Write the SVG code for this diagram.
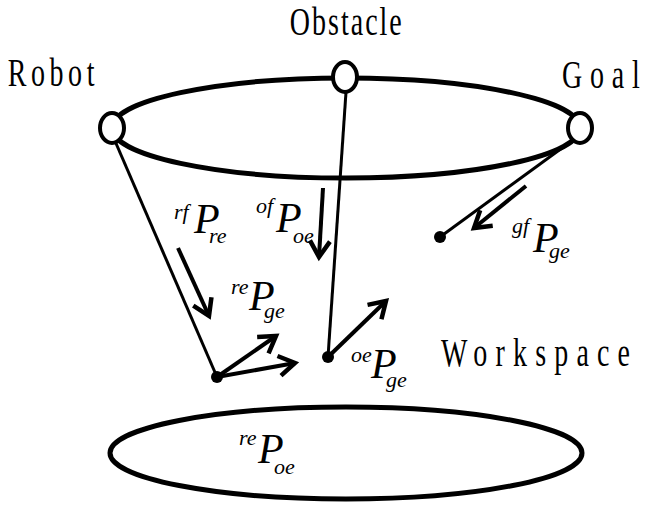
<svg xmlns="http://www.w3.org/2000/svg" width="645" height="508" viewBox="0 0 645 508">
<style>
.lbl{font-family:"Liberation Serif","DejaVu Serif",serif;font-size:40px;fill:#000}
.m{font-family:"Liberation Serif","Times New Roman",serif;font-style:italic;fill:#000}
.P{font-size:42px}
.s{font-size:22px}
.ell{fill:none;stroke:#000;stroke-width:5}
.node{fill:#fff;stroke:#000;stroke-width:4}
.ln{stroke:#000;stroke-width:3;fill:none}
.arr{stroke:#000;stroke-width:4;fill:none;marker-end:url(#ah)}
.dot{fill:#000}
</style>
<defs>
<marker id="ah" markerUnits="userSpaceOnUse" markerWidth="40" markerHeight="40" viewBox="-20 -20 40 40" refX="0" refY="0" orient="auto">
<path d="M -16 -10 L 0 0 L -16 10" fill="none" stroke="#000" stroke-width="4.5"/>
</marker>
</defs>
<g id="workspace-ellipse"><ellipse class="ell" cx="346" cy="128" rx="234" ry="50"/></g>
<g id="bottom-ellipse"><ellipse class="ell" cx="346" cy="453" rx="236" ry="46"/></g>
<g id="connectors">
<line class="ln" x1="115" y1="141" x2="217" y2="377"/>
<line class="ln" x1="346" y1="92" x2="328" y2="357"/>
<line class="ln" x1="573" y1="140" x2="440" y2="237"/>
<line class="arr" x1="178" y1="248" x2="209" y2="316"/>
<line class="arr" x1="323" y1="188" x2="319" y2="257"/>
<line class="arr" x1="217" y1="377" x2="276" y2="336"/>
<line class="arr" x1="217" y1="377" x2="295" y2="363"/>
<line class="arr" x1="328" y1="357" x2="386" y2="301"/>
<line class="arr" x1="526" y1="186" x2="474" y2="228"/>
</g>
<g id="robot"><ellipse class="node" cx="112" cy="128" rx="12" ry="15"/><text class="lbl" transform="scale(0.7,1)" x="11" y="86" textLength="124" lengthAdjust="spacing">Robot</text></g>
<g id="obstacle"><ellipse class="node" cx="345" cy="77" rx="12" ry="15"/><text class="lbl" transform="scale(0.7,1)" x="414" y="35" textLength="160" lengthAdjust="spacing">Obstacle</text></g>
<g id="goal"><ellipse class="node" cx="580" cy="128" rx="12" ry="15"/><text class="lbl" transform="scale(0.7,1)" x="803" y="88" textLength="111" lengthAdjust="spacing">Goal</text></g>
<g id="robot-end"><circle class="dot" cx="217" cy="377" r="6"/></g>
<g id="obstacle-end"><circle class="dot" cx="328" cy="357" r="6"/></g>
<g id="goal-end"><circle class="dot" cx="440" cy="237" r="6"/></g>
<g id="workspace-label"><text class="lbl" transform="scale(0.7,1)" x="630" y="366" textLength="270" lengthAdjust="spacing">Workspace</text></g>
<g id="labels">
<text class="m"><tspan class="s" x="174" y="219">rf</tspan><tspan class="P" x="194" y="233">P</tspan><tspan class="s" x="209" y="243">re</tspan></text>
<text class="m"><tspan class="s" x="256" y="213">of</tspan><tspan class="P" x="276" y="232">P</tspan><tspan class="s" x="293" y="243">oe</tspan></text>
<text class="m"><tspan class="s" x="231" y="294">re</tspan><tspan class="P" x="249" y="310">P</tspan><tspan class="s" x="264" y="318">ge</tspan></text>
<text class="m"><tspan class="s" x="351" y="362">oe</tspan><tspan class="P" x="371" y="378">P</tspan><tspan class="s" x="386" y="387">ge</tspan></text>
<text class="m"><tspan class="s" x="512" y="233">gf</tspan><tspan class="P" x="533" y="252">P</tspan><tspan class="s" x="549" y="258">ge</tspan></text>
<text class="m"><tspan class="s" x="239" y="445">re</tspan><tspan class="P" x="258" y="463">P</tspan><tspan class="s" x="274" y="474">oe</tspan></text>
</g>
</svg>
